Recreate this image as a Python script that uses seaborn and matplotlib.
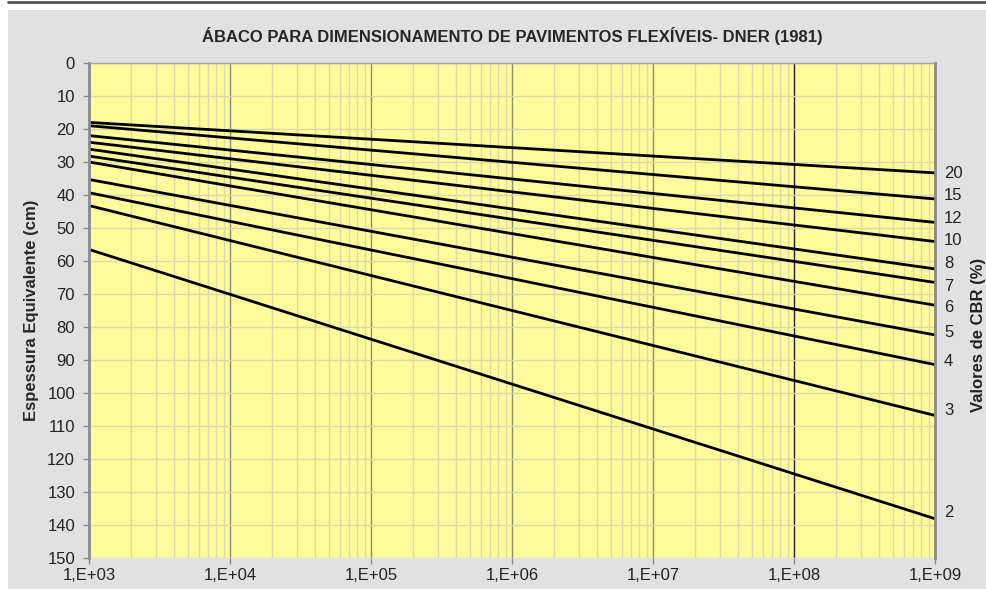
import matplotlib
matplotlib.use("Agg")
import matplotlib.pyplot as plt
import seaborn as sns
import pandas as pd
from matplotlib.lines import Line2D
from matplotlib.patches import Rectangle
from matplotlib.ticker import FixedLocator, LogLocator, NullFormatter

# CBR curves: thickness (cm) at N = 1E+03 and N = 1E+09
cbr = [20, 15, 12, 10, 8, 7, 6, 5, 4, 3, 2]
n_start = 1e3
n_end = 1e9
h_start = [18.0, 19.0, 22.0, 24.0, 26.1, 28.2, 30.0, 35.3, 39.3, 43.2, 56.5]
h_end = [33.3, 41.2, 48.3, 54.1, 62.4, 66.5, 73.4, 82.4, 91.4, 106.8, 138.1]

x_ticks = [1e3, 1e4, 1e5, 1e6, 1e7, 1e8, 1e9]
x_labels = ["1,E+03", "1,E+04", "1,E+05", "1,E+06", "1,E+07", "1,E+08", "1,E+09"]

rows = []
for c, a, b in zip(cbr, h_start, h_end):
    rows.append({"N": n_start, "H": a, "CBR": str(c)})
    rows.append({"N": n_end, "H": b, "CBR": str(c)})
df = pd.DataFrame(rows)

sns.set_style("white")
plt.rcParams["font.family"] = ["Liberation Sans", "DejaVu Sans"]
FS = 12

fig = plt.figure(figsize=(9.87, 5.89), dpi=100, facecolor="white")

# grey background panel and the top rule line of the page
fig.add_artist(Rectangle((8 / 987, 0), 1, 1 - 10 / 589, transform=fig.transFigure,
                         facecolor="#e1e1e1", edgecolor="none", zorder=-10))
fig.add_artist(Line2D([8 / 987, 1], [1 - 2 / 589, 1 - 2 / 589], transform=fig.transFigure,
                      color="#555555", lw=2))

ax = fig.add_axes([89 / 987, 1 - 558 / 589, (935 - 89) / 987, (558 - 63) / 589])
ax.set_facecolor("#fffb9c")

sns.lineplot(data=df, x="N", y="H", units="CBR", estimator=None,
             color="black", linewidth=2.0, ax=ax)

ax.set_xscale("log")
ax.set_xlim(1e3, 1e9)
ax.set_ylim(150, 0)
ax.set_yticks(range(0, 151, 10))
ax.xaxis.set_major_locator(FixedLocator(x_ticks))
ax.set_xticklabels(x_labels)
ax.xaxis.set_minor_locator(LogLocator(base=10, subs=range(2, 10)))
ax.xaxis.set_minor_formatter(NullFormatter())

ax.grid(True, which="minor", axis="x", color="#dcd9a8", lw=1.0)
ax.grid(True, which="major", axis="y", color="#dcd9a8", lw=1.0)
ax.grid(True, which="major", axis="x", color="#8c8a78", lw=1.0)
ax.set_axisbelow(True)
glines = ax.xaxis.get_gridlines()
glines[5].set_color("#222222")

ax.tick_params(axis="both", which="major", labelsize=FS, colors="#222222",
               length=4, width=1, direction="out")
ax.tick_params(axis="x", which="major", pad=3, color="#888888")
ax.tick_params(axis="y", which="major", pad=6, color="#888888")
ax.tick_params(axis="x", which="minor", length=0)
ax.tick_params(axis="x", which="major", bottom=True)
ax.tick_params(axis="y", which="major", left=True)

for side in ["left", "right"]:
    ax.spines[side].set_color("#8a8a8a")
    ax.spines[side].set_linewidth(2)
ax.spines["top"].set_color("#a0a0a0")
ax.spines["top"].set_linewidth(1)
ax.spines["bottom"].set_visible(False)

ax.set_xlabel("")
ax.set_ylabel("Espessura Equivalente (cm)", fontsize=FS, fontweight="bold", labelpad=6)
ax.set_title("ÁBACO PARA DIMENSIONAMENTO DE PAVIMENTOS FLEXÍVEIS- DNER (1981)",
             fontsize=FS, fontweight="bold", pad=15)

# CBR labels at the right end of each line (slight vertical nudges as in the original)
label_dy = [1, -3, -4, -1, -5, 4, 2, -2, -3, -5, -6]
for c, b, dy in zip(cbr, h_end, label_dy):
    ax.annotate(str(c), xy=(n_end, b), xytext=(9, -dy), textcoords="offset pixels",
                ha="left", va="center", fontsize=FS, color="#222222",
                annotation_clip=False)

fig.text(986 / 987, 1 - 412 / 589, "Valores de CBR (%)", rotation=90,
         ha="right", va="bottom", fontsize=FS, fontweight="bold", color="#222222")

fig.savefig("out.png", dpi=100)
